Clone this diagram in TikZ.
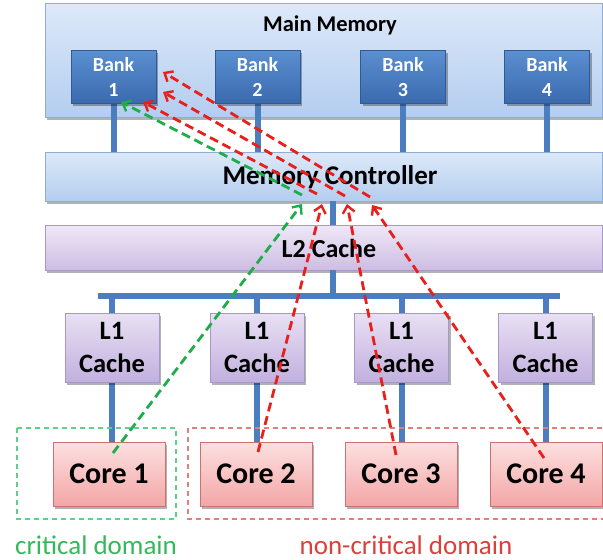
\documentclass[tikz,border=0pt]{standalone}
\usepackage{fontspec}
\setmainfont{Carlito}
\usetikzlibrary{shadows,arrows.meta}

\definecolor{memtop}{HTML}{DDE9F9}
\definecolor{membot}{HTML}{B4CDEF}
\definecolor{memline}{HTML}{8EAED6}
\definecolor{banktop}{HTML}{5A8FD0}
\definecolor{bankbot}{HTML}{3A6AAE}
\definecolor{bankline}{HTML}{2F5A95}
\definecolor{stem}{HTML}{4A7EBF}
\definecolor{ltwotop}{HTML}{EFE8F6}
\definecolor{ltwobot}{HTML}{CDBDE3}
\definecolor{lonetop}{HTML}{E9E0F3}
\definecolor{lonebot}{HTML}{C1B0DF}
\definecolor{cacheline}{HTML}{A898C8}
\definecolor{coretop}{HTML}{FDE0E0}
\definecolor{corebot}{HTML}{F3A6A6}
\definecolor{coreline}{HTML}{CC7070}
\definecolor{critarrow}{HTML}{1FAD4B}
\definecolor{noncritarrow}{HTML}{E8201C}
\definecolor{critbox}{HTML}{5FD08A}
\definecolor{noncritbox}{HTML}{E0807D}
\definecolor{critlabel}{HTML}{35B85A}
\definecolor{noncritlabel}{HTML}{D9413C}

\tikzset{
  boxshadow/.style={drop shadow={shadow xshift=2pt, shadow yshift=-2.5pt, opacity=0.3, fill=black}},
  membox/.style={boxshadow, draw=memline, line width=0.8pt, top color=memtop, bottom color=membot, rectangle, inner sep=0pt},
  bankbox/.style={boxshadow, draw=bankline, line width=0.6pt, top color=banktop, bottom color=bankbot,
    minimum width=85pt, minimum height=53pt, inner sep=0pt, text=white, align=center,
    font=\fontsize{20}{25}\selectfont\bfseries},
  ltwobox/.style={boxshadow, draw=cacheline, line width=0.8pt, top color=ltwotop, bottom color=ltwobot, inner sep=0pt},
  lonebox/.style={boxshadow, draw=cacheline, line width=0.8pt, top color=lonetop, bottom color=lonebot,
    minimum width=94pt, minimum height=69pt, inner sep=0pt, align=center,
    font=\fontsize{26.5}{33}\selectfont\bfseries},
  corebox/.style={boxshadow, draw=coreline, line width=0.8pt, top color=coretop, bottom color=corebot,
    minimum width=112pt, minimum height=64pt, inner sep=0pt,
    font=\fontsize{30}{34}\selectfont\bfseries},
  wire/.style={draw=stem, line width=6pt},
  flow/.style={line width=2.8pt, dash pattern=on 9pt off 5pt,
    -{Straight Barb[length=7pt,width=12pt,line width=2.4pt]}},
  domainbox/.style={line width=1.4pt, dash pattern=on 5pt off 4pt},
}

\begin{document}
\begin{tikzpicture}[x=1pt,y=-1pt]
\useasboundingbox (0,0) rectangle (603,560);

% memory and controller
\node[membox, minimum width=557pt, minimum height=114pt] (mem) at (323.5,60) {};
\node[font=\fontsize{22.5}{26}\selectfont\bfseries] (memtitle) at (330,25) {Main Memory};
\node[membox, minimum width=557pt, minimum height=49pt] (mc) at (323.5,176.5) {};
\node[ltwobox, minimum width=557pt, minimum height=45pt] (ltwo) at (323.5,247.5) {};

% bank stems
\foreach \x/\n in {113.5/1,257.5/2,403/3,547/4}{
  \coordinate (bs\n) at (\x,100);
  \draw[wire] (bs\n) -- (bs\n |- mc.north);
}
\foreach \x/\n in {113.5/1,257.5/2,403/3,547/4}{
  \node[bankbox] (bank\n) at (\x,77) {Bank\\\n};
}

\node[font=\fontsize{27}{30}\selectfont\bfseries] (mctext) at (330,177) {Memory Controller};
\node[font=\fontsize{26}{30}\selectfont\bfseries] (ltwotext) at (329,248) {L2 Cache};

% controller to L2, L2 to bus
\coordinate (mcstem) at (333,0);
\draw[wire] (mcstem |- mc.south) -- (mcstem |- ltwo.north);
\coordinate (busl) at (98,296);
\coordinate (busr) at (560,296);
\draw[wire] (mcstem |- ltwo.south) -- (mcstem |- busl);
\draw[draw=stem, line width=6.5pt] (busl) -- (busr);

% L1 caches and cores
\foreach \x/\c/\n in {112/109/1,257/256/2,401.5/401/3,545.5/546/4}{
  \coordinate (ls\n) at (\x,296);
  \draw[wire] (ls\n) -- ++(0,20);
  \draw[wire] (\x,380) -- (\x,444);
}
\foreach \x/\c/\n in {112/109/1,257/256/2,401.5/401/3,545.5/546/4}{
  \node[lonebox] (lone\n) at (\x,347.5) {L1\\Cache};
  \node[corebox] (core\n) at (\c,474) {Core \n};
}

% domains
\draw[domainbox, draw=critbox] (17,428) rectangle (176,519);
\draw[domainbox, draw=noncritbox] (188,428) rectangle (610,519);
\node[text=critlabel, font=\fontsize{27}{30}\selectfont] (critlbl) at (96,545) {critical domain};
\node[text=noncritlabel, font=\fontsize{27}{30}\selectfont] (noncritlbl) at (406,545) {non-critical domain};

% request paths: core -> controller -> bank 1
\coordinate (g0) at (113,453);  \coordinate (g1) at (302,204);
\coordinate (g2) at (302,195);  \coordinate (g3) at (121,102);
\coordinate (a0) at (258,452);  \coordinate (a1) at (322,204);
\coordinate (a2) at (317,194);  \coordinate (a3) at (143,102);
\coordinate (b0) at (396,455);  \coordinate (b1) at (347,204);
\coordinate (b2) at (345,196);  \coordinate (b3) at (163,92);
\coordinate (c0) at (544,458);  \coordinate (c1) at (372,205);
\coordinate (c2) at (370,197);  \coordinate (c3) at (163,72);

\draw[flow, draw=critarrow] (g0) -- (g1);
\draw[flow, draw=critarrow] (g2) -- (g3);
\draw[flow, draw=noncritarrow] (a0) -- (a1);
\draw[flow, draw=noncritarrow] (a2) -- (a3);
\draw[flow, draw=noncritarrow] (b0) -- (b1);
\draw[flow, draw=noncritarrow] (b2) -- (b3);
\draw[flow, draw=noncritarrow] (c0) -- (c1);
\draw[flow, draw=noncritarrow] (c2) -- (c3);
\end{tikzpicture}
\end{document}
